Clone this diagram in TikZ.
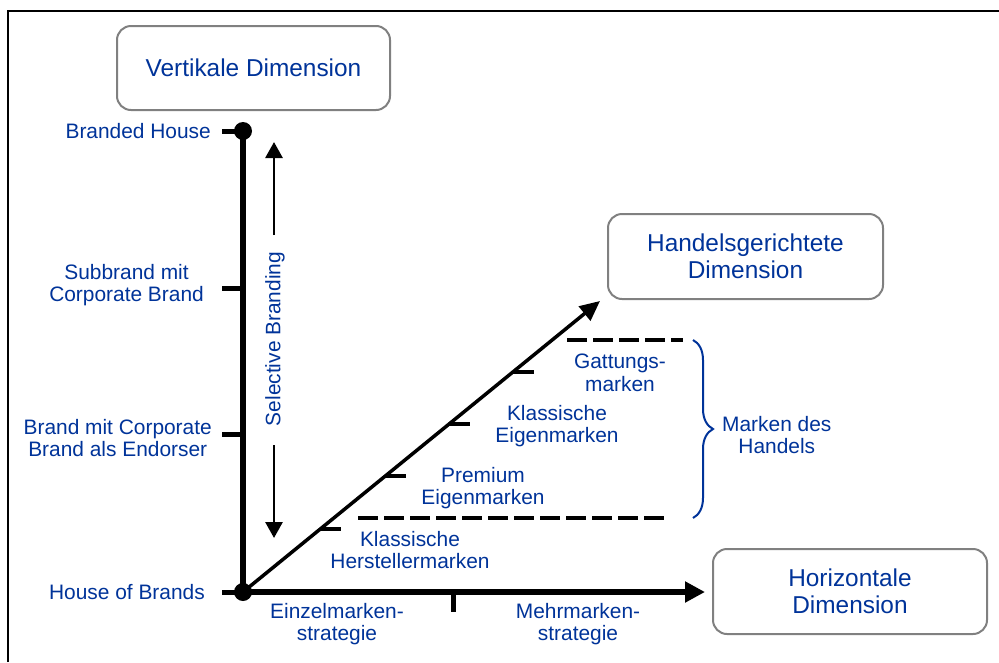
\documentclass[tikz,border=0pt]{standalone}
\usepackage{fontspec}
\setmainfont{Liberation Sans}
\usetikzlibrary{arrows.meta,decorations.pathreplacing,calc}
\definecolor{txtblue}{RGB}{0,51,153}
\definecolor{boxgray}{RGB}{128,128,128}
\begin{document}
\begin{tikzpicture}[x=1pt,y=-1pt,
  every node/.style={inner sep=0pt},
  lab/.style={text=txtblue,font=\fontsize{20.9}{22.5}\selectfont,align=center},
  dimbox/.style={draw=boxgray,line width=2pt,rounded corners=14pt,text=txtblue,
    font=\fontsize{24.4}{27}\selectfont,align=center},
  axisline/.style={line width=5.5pt},
  ticka/.style={line width=5pt},
  tickd/.style={line width=4.5pt},
  sbarrow/.style={line width=2.8pt,-{Triangle[length=16pt,width=17pt]}},
  dashline/.style={line width=3.3pt,dash pattern=on 20pt off 6pt}]
\useasboundingbox (0,0) rectangle (999,662);
% frame
\coordinate (f1) at (8,662);
\coordinate (f2) at (8,11);
\coordinate (f3) at (999,11);
\draw[line width=2pt] (f1) -- (f2) -- (f3);

% boxes
\node[dimbox,minimum width=273pt,minimum height=84pt] (vd) at (253.5,68) {Vertikale Dimension};
\node[dimbox,minimum width=275pt,minimum height=85pt] (hd) at (745.5,256.5) {Handelsgerichtete\\Dimension};
\node[dimbox,minimum width=274pt,minimum height=85pt] (hod) at (850,591.5) {Horizontale\\Dimension};

% axes
\coordinate (O) at (243,592);
\coordinate (T) at (243,131);
\coordinate (hend) at (705,592);
\coordinate (dend) at (600,301);
\draw[axisline] (O) -- (T);
\draw[axisline,-{Triangle[length=20pt,width=20pt]}] (O) -- (hend);
\draw[line width=3.5pt,-{Triangle[length=20pt,width=18pt]}] (O) -- (dend);

% vertical ticks
\coordinate (v1) at (243,288);
\coordinate (v2) at (243,434);
\draw[ticka] (T) -- ++(-21,0);
\draw[ticka] (v1) -- ++(-21,0);
\draw[ticka] (v2) -- ++(-21,0);
\draw[ticka] (O) -- ++(-21,0);
\fill (T) circle (9pt);
\fill (O) circle (9pt);
% horizontal tick
\coordinate (h1) at (453,592);
\draw[ticka] (h1) -- ++(0,20);
% diagonal ticks
\coordinate (d1) at ($(O)!0.2165!(dend)$);
\coordinate (d2) at ($(O)!0.3986!(dend)$);
\coordinate (d3) at ($(O)!0.5773!(dend)$);
\coordinate (d4) at ($(O)!0.756!(dend)$);
\draw[tickd] (d1) -- ++(21,0);
\draw[tickd] (d2) -- ++(21,0);
\draw[tickd] (d3) -- ++(21,0);
\draw[tickd] (d4) -- ++(21,0);

% selective branding
\node[lab,rotate=90] (sb) at (275,339) {Selective Branding};
\coordinate (sbu0) at (274,235);
\coordinate (sbu1) at (274,142);
\coordinate (sbd0) at (274,445);
\coordinate (sbd1) at (274,538);
\draw[sbarrow] (sbu0) -- (sbu1);
\draw[sbarrow] (sbd0) -- (sbd1);

% dashed lines
\coordinate (da1) at (567,340);
\coordinate (da2) at (683,340);
\coordinate (db1) at (358,518);
\coordinate (db2) at (665,518);
\draw[dashline] (da1) -- (da2);
\draw[dashline] (db1) -- (db2);

% brace
\coordinate (br1) at (693,340);
\coordinate (br2) at (693,518);
\draw[txtblue,line width=2pt,decorate,decoration={brace,amplitude=20pt}] (br1) -- (br2);
\node[lab,anchor=west] (mdh) at (722,435) {Marken des\\Handels};

% vertical axis labels
\node[lab,anchor=east] (bh) at (211,131) {Branded House};
\node[lab,anchor=east] (sub) at (204,285) {Subbrand mit\\Corporate Brand};
\node[lab,anchor=east] (bmc) at (212,438) {Brand mit Corporate\\Brand als Endorser};
\node[lab,anchor=east] (hob) at (205,592) {House of Brands};

% horizontal axis labels
\node[lab] (ez) at (337,624) {Einzelmarken-\\strategie};
\node[lab] (mm) at (578,624) {Mehrmarken-\\strategie};

% diagonal labels
\node[lab] (kh) at (410,550) {Klassische\\Herstellermarken};
\node[lab] (pe) at (483,488) {Premium\\Eigenmarken};
\node[lab] (ke) at (557,426) {Klassische\\Eigenmarken};
\node[lab] (gm) at (620,373) {Gattungs-\\marken};
\end{tikzpicture}
\end{document}
